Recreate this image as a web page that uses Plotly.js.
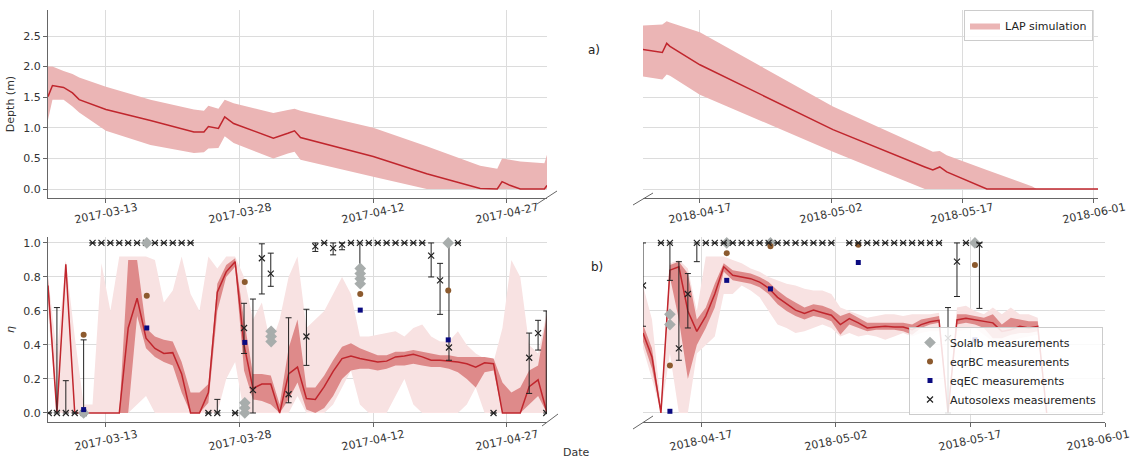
<!DOCTYPE html>
<html><head><meta charset="utf-8">
<script src="https://cdn.plot.ly/plotly-3.0.1.min.js"></script>
<style>html,body{margin:0;padding:0;background:#fff}#chart{width:1133px;height:462px}</style>
</head><body><div id="chart"></div>
<script>
// ---------- Depth (top panels) ----------
const depth2017Dates = ['2017-03-06 12:00','2017-03-07 00:00','2017-03-08 06:00','2017-03-09 06:00','2017-03-10 00:00','2017-03-13 00:00','2017-03-18 00:00','2017-03-22 21:00','2017-03-24 00:00','2017-03-24 12:00','2017-03-25 15:00','2017-03-26 08:00','2017-03-27 08:00','2017-03-31 19:00','2017-04-02 10:00','2017-04-03 04:00','2017-04-03 20:00','2017-04-12 00:00','2017-04-18 00:00','2017-04-24 00:00','2017-04-25 22:00','2017-04-26 11:00','2017-04-27 08:00','2017-04-28 12:00','2017-05-01 05:00','2017-05-01 12:00'];
const depth2017   = [1.51,1.69,1.66,1.57,1.46,1.30,1.12,0.93,0.93,1.02,0.99,1.18,1.07,0.83,0.91,0.95,0.84,0.53,0.25,0.01,0.00,0.12,0.06,0.00,0.00,0.06];
const depth2017Up = [2.00,2.00,1.93,1.88,1.82,1.67,1.46,1.30,1.28,1.36,1.31,1.46,1.40,1.24,1.29,1.31,1.28,1.00,0.70,0.38,0.33,0.50,0.48,0.45,0.42,0.56];
const depth2017Lo = [1.13,1.46,1.46,1.35,1.25,0.95,0.72,0.59,0.60,0.66,0.67,0.86,0.75,0.50,0.58,0.61,0.48,0.20,0.00,0,0,0,0,0,0,0];

const depth2018Dates = ['2018-04-10 12:00','2018-04-12 17:00','2018-04-13 05:00','2018-04-13 14:00','2018-04-17 00:00','2018-05-02 05:00','2018-05-12 17:00','2018-05-13 15:00','2018-05-14 10:00','2018-05-15 05:00','2018-05-19 19:00','2018-05-25 00:00','2018-05-25 12:00','2018-06-01 12:00'];
const depth2018   = [2.28,2.23,2.38,2.33,2.03,0.97,0.36,0.31,0.36,0.28,0.00,0.00,0.00,0.00];
const depth2018Up = [2.67,2.69,2.74,2.72,2.56,1.35,0.67,0.61,0.62,0.55,0.31,0.04,0.00,0.00];
const depth2018Lo = [1.84,1.79,1.87,1.85,1.54,0.61,0.00,0,0,0,0,0,0,0];

// ---------- eta (bottom panels) ----------
const eta2017Dates = ['2017-03-06 12:00','2017-03-07 12:00','2017-03-08 12:00','2017-03-09 12:00','2017-03-10 12:00','2017-03-11 12:00','2017-03-12 12:00','2017-03-13 12:00','2017-03-14 12:00','2017-03-15 12:00','2017-03-16 12:00','2017-03-17 12:00','2017-03-18 12:00','2017-03-19 12:00','2017-03-20 12:00','2017-03-21 12:00','2017-03-22 12:00','2017-03-23 12:00','2017-03-24 12:00','2017-03-25 12:00','2017-03-26 12:00','2017-03-27 12:00','2017-03-28 12:00','2017-03-29 12:00','2017-03-30 12:00','2017-03-31 12:00',
'2017-04-01 12:00','2017-04-02 12:00','2017-04-03 12:00','2017-04-04 12:00','2017-04-05 12:00','2017-04-06 12:00','2017-04-07 12:00','2017-04-08 12:00','2017-04-09 12:00','2017-04-10 12:00','2017-04-11 12:00','2017-04-12 12:00','2017-04-13 12:00','2017-04-14 12:00','2017-04-15 12:00','2017-04-16 12:00','2017-04-17 12:00','2017-04-18 12:00','2017-04-19 12:00','2017-04-20 12:00','2017-04-21 12:00','2017-04-22 12:00','2017-04-23 12:00','2017-04-24 12:00','2017-04-25 12:00','2017-04-26 12:00','2017-04-27 12:00','2017-04-28 12:00','2017-04-29 12:00','2017-04-30 12:00','2017-05-01 12:00'];
const eta2017 = [0.75,0,0.875,0,0,0,0,0,0,0.50,0.675,0.44,0.38,0.35,0.355,0.23,0,0,0.12,0.71,0.83,0.89,0.40,0.145,0.17,0.17,
0,0.23,0.27,0.085,0.08,0.155,0.245,0.32,0.335,0.32,0.31,0.30,0.305,0.33,0.335,0.345,0.33,0.31,0.31,0.305,0.30,0.29,0.27,0.295,0.29,0,0,0,0.155,0.195,0];
const eta2017DarkUp = [0.80,0.02,0.89,0.01,0,0,0,0,0,0.90,0.90,0.50,0.45,0.43,0.42,0.30,0.12,0.12,0.17,0.76,0.87,0.91,0.55,0.23,0.23,0.22,
0.05,0.38,0.55,0.15,0.15,0.22,0.31,0.39,0.41,0.38,0.36,0.34,0.34,0.36,0.36,0.37,0.36,0.35,0.34,0.34,0.33,0.33,0.33,0.33,0.32,0.18,0.12,0.15,0.25,0.28,0.58];
const eta2017DarkLo = [0.70,0,0.85,0,0,0,0,0,0,0,0.57,0.38,0.33,0.30,0.28,0.12,0,0,0.06,0.60,0.80,0.86,0.25,0.08,0.07,0.05,
0,0.08,0.18,0.02,0,0.03,0.10,0.20,0.25,0.26,0.26,0.25,0.26,0.28,0.28,0.29,0.28,0.27,0.27,0.26,0.24,0.20,0.15,0.24,0.25,0,0,0,0.05,0.10,0];
const eta2017LightUp = [0.80,0.35,0.90,0.45,0.05,0.05,0.88,0.60,0.92,0.92,0.92,0.92,0.90,0.65,0.72,0.92,0.70,0.60,0.92,0.85,0.92,0.92,0.80,0.55,0.65,0.40,
0.55,0.80,0.92,0.50,0.55,0.60,0.70,0.80,0.70,0.45,0.45,0.46,0.47,0.48,0.45,0.50,0.52,0.45,0.42,0.42,0.48,0.40,0.35,0.32,0.30,0.50,0.90,0.80,0.40,0.35,0.60];
const eta2017LightLo = [0.60,0,0,0,0,0,0,0,0,0,0.05,0.10,0,0,0,0,0,0,0,0,0.2,0.3,0,0,0,0,
0,0,0.1,0,0,0,0.05,0.15,0.25,0.05,0,0,0,0.1,0.2,0.05,0,0,0,0,0,0.05,0.15,0,0,0,0,0,0,0,0];

const eta2018Dates = ['2018-04-10 12:00','2018-04-11 12:00','2018-04-12 12:00','2018-04-13 12:00','2018-04-14 12:00','2018-04-15 12:00','2018-04-16 12:00','2018-04-17 12:00','2018-04-18 12:00','2018-04-19 12:00','2018-04-20 12:00','2018-04-21 12:00','2018-04-22 12:00','2018-04-23 12:00','2018-04-24 12:00','2018-04-25 12:00','2018-04-26 12:00','2018-04-27 12:00','2018-04-28 12:00','2018-04-29 12:00','2018-04-30 12:00',
'2018-05-01 12:00','2018-05-02 12:00','2018-05-03 12:00','2018-05-04 12:00','2018-05-05 12:00','2018-05-06 12:00','2018-05-07 12:00','2018-05-08 12:00','2018-05-09 12:00','2018-05-10 12:00','2018-05-11 12:00','2018-05-12 12:00','2018-05-13 12:00','2018-05-14 12:00','2018-05-15 12:00','2018-05-16 12:00','2018-05-17 12:00','2018-05-18 12:00','2018-05-19 12:00','2018-05-20 12:00','2018-05-21 12:00','2018-05-22 12:00','2018-05-23 12:00','2018-05-24 12:00','2018-05-25 12:00'];
const eta2018 = [0.47,0.33,0,0.84,0.86,0.60,0.48,0.57,0.70,0.86,0.81,0.80,0.79,0.77,0.735,0.68,0.64,0.605,0.585,0.605,0.59,
0.575,0.52,0.555,0.53,0.50,0.505,0.51,0.505,0.505,0.49,0.52,0.537,0.545,0,0.547,0.557,0.547,0.54,0.53,0.48,0.49,0.51,0.50,0.51,0];
const eta2018DarkUp = [0.52,0.38,0.02,0.87,0.89,0.82,0.55,0.62,0.76,0.88,0.84,0.83,0.82,0.80,0.77,0.72,0.68,0.65,0.62,0.64,0.63,
0.61,0.57,0.59,0.56,0.53,0.53,0.53,0.53,0.53,0.52,0.55,0.56,0.57,0.02,0.58,0.58,0.57,0.56,0.58,0.52,0.56,0.55,0.54,0.54,0.02];
const eta2018DarkLo = [0.42,0.26,0,0.80,0.55,0.20,0.40,0.50,0.62,0.83,0.78,0.77,0.76,0.74,0.70,0.64,0.60,0.57,0.55,0.57,0.56,
0.54,0.46,0.52,0.50,0.48,0.49,0.49,0.49,0.48,0.46,0.50,0.52,0.53,0,0.52,0.53,0.52,0.50,0.44,0.44,0.46,0.47,0.47,0.48,0];
const eta2018LightUp = [0.75,0.55,0.05,0.88,0.90,0.85,0.60,0.92,0.92,0.92,0.90,0.88,0.85,0.83,0.80,0.78,0.76,0.75,0.73,0.72,0.72,
0.70,0.62,0.60,0.58,0.56,0.57,0.58,0.58,0.57,0.58,0.58,0.58,0.59,0.05,0.62,0.63,0.60,0.58,0.62,0.58,0.62,0.58,0.58,0.56,0.05];
const eta2018LightLo = [0.38,0.20,0,0.35,0,0,0.35,0.40,0.45,0.70,0.70,0.75,0.72,0.68,0.60,0.52,0.50,0.47,0.48,0.50,0.52,
0.50,0.45,0.47,0.45,0.46,0.45,0.43,0.45,0.47,0.45,0.47,0.48,0.48,0,0.48,0.49,0.50,0.46,0.42,0.40,0.42,0.44,0.45,0.46,0];

// ---------- Measurements ----------
const solalb2017Dates = ['2017-03-10 12:00','2017-03-17 14:00','2017-03-28 14:00','2017-03-28 14:00','2017-03-28 14:00','2017-03-31 13:00','2017-03-31 13:00','2017-03-31 13:00','2017-04-10 13:00','2017-04-10 13:00','2017-04-10 13:00','2017-04-10 13:00','2017-04-20 10:00'];
const solalb2017 = [0.0,1.0,0.0,0.03,0.06,0.42,0.45,0.48,0.76,0.79,0.82,0.85,1.0];
const eq2017Dates = ['2017-03-10 12:00','2017-03-17 14:00','2017-03-28 14:00','2017-04-10 13:00','2017-04-20 10:00'];
const eqrbc2017 = [0.46,0.69,0.77,0.70,0.72];
const eqec2017  = [0.02,0.50,0.415,0.605,0.43];

const solalb2018Dates = ['2018-04-13 12:00','2018-04-13 12:00','2018-04-19 20:00','2018-04-24 17:00','2018-05-17 12:00'];
const solalb2018 = [0.58,0.52,1.0,1.0,1.0];
const eq2018Dates = ['2018-04-13 12:00','2018-04-19 20:00','2018-04-24 17:00','2018-05-04 12:00','2018-05-17 12:00'];
const eqrbc2018 = [0.28,0.94,0.98,0.99,0.87];
const eqec2018  = [0.01,0.78,0.73,0.885,0.43];

const auto2017Dates = ['2017-03-06 14:00','2017-03-07 12:00','2017-03-08 12:00','2017-03-09 12:00','2017-03-10 12:00','2017-03-11 12:00','2017-03-12 12:00','2017-03-13 12:00','2017-03-14 12:00','2017-03-15 12:00','2017-03-16 12:00','2017-03-17 12:00','2017-03-18 12:00','2017-03-19 12:00','2017-03-20 12:00','2017-03-21 12:00','2017-03-22 12:00','2017-03-24 12:00','2017-03-25 12:00','2017-03-27 12:00','2017-03-28 12:00','2017-03-29 12:00','2017-03-30 12:00','2017-03-31 12:00','2017-04-02 12:00','2017-04-04 12:00','2017-04-05 12:00','2017-04-06 12:00','2017-04-07 12:00','2017-04-08 12:00','2017-04-09 12:00','2017-04-10 12:00','2017-04-11 12:00','2017-04-12 12:00','2017-04-13 12:00','2017-04-14 12:00','2017-04-15 12:00','2017-04-16 12:00','2017-04-17 12:00','2017-04-18 12:00','2017-04-19 12:00','2017-04-20 12:00','2017-04-21 12:00','2017-04-25 12:00','2017-04-29 12:00','2017-04-30 12:00','2017-05-01 10:00'];
const auto2017      = [0,0,0,0,0,1,1,1,1,1,1,1,1,1,1,1,1,0,0,0,0.50,0.135,0.91,0.82,0.11,0.45,0.98,1.0,0.97,0.99,1.0,1.0,1,1,1,1,1,1,1,0.925,0.78,0.385,1.0,0,0.325,0.47,0];
const auto2017Plus  = [0,0.62,0.19,0,0.43,0,0,0,0,0,0,0,0,0,0,0,0,0,0.08,0,0.145,0.535,0.085,0.12,0.45,0.16,0.02,0,0.03,0.01,0,0,0,0,0,0,0,0,0,0.075,0.10,0.615,0,0,0.145,0.075,0.60];
const auto2017Minus = [0,0,0,0,0,0,0,0,0,0,0,0,0,0,0,0,0,0,0,0,0.15,0.135,0.21,0.075,0.05,0.17,0.03,0,0.04,0.03,0,0.14,0,0,0,0,0,0,0,0.125,0.20,0.075,0,0,0.21,0.10,0];

const auto2018Dates = ['2018-04-10 12:00','2018-04-12 12:00','2018-04-13 12:00','2018-04-14 12:00','2018-04-15 12:00','2018-04-16 12:00','2018-04-17 12:00','2018-04-18 12:00','2018-04-19 12:00','2018-04-20 12:00','2018-04-21 12:00','2018-04-22 12:00','2018-04-23 12:00','2018-04-24 12:00','2018-04-25 12:00','2018-04-26 12:00','2018-04-27 12:00','2018-04-28 12:00','2018-04-29 12:00','2018-04-30 12:00','2018-05-01 12:00','2018-05-03 12:00','2018-05-04 12:00','2018-05-05 12:00','2018-05-06 12:00','2018-05-07 12:00','2018-05-08 12:00','2018-05-09 12:00','2018-05-10 12:00','2018-05-11 12:00','2018-05-12 12:00','2018-05-13 12:00','2018-05-14 12:00','2018-05-15 12:00','2018-05-16 12:00','2018-05-18 00:00'];
const auto2018      = [0.75,1,1,0.38,0.70,1,1,1,1,1,1,1,1,1,1,1,1,1,1,1,1,1,1,1,1,1,1,1,1,1,1,1,0.44,0.89,1,0.99];
const auto2018Plus  = [0.25,0,0,0.51,0.12,0,0,0,0,0,0,0,0,0,0,0,0,0,0,0,0,0,0,0,0,0,0,0,0,0,0,0,0.18,0.11,0,0.01];
const auto2018Minus = [0.24,0,0.22,0.07,0.20,0.11,0,0,0,0,0,0,0,0,0,0,0,0,0,0,0,0,0,0,0,0,0,0,0,0,0,0,0.44,0.205,0,0.375];

// ---------- Ticks ----------
const ticks2017 = ['2017-03-13','2017-03-28','2017-04-12','2017-04-27'];
const ticks2018 = ['2018-04-17','2018-05-02','2018-05-17','2018-06-01'];

// ---------- Styles ----------
const RED = '#c0262d', DEPTHFILL = '#ebb5b5', DARKFILL = '#de8a8a', LIGHTFILL = '#f8e2e2';
const GRID = '#dcdcdc', AXC = '#666';
const FONT = 'DejaVu Sans, Liberation Sans, sans-serif';

function band(xs, up, lo, color, xa, ya, extra) {
  return Object.assign({
    type: 'scatter', mode: 'lines', x: xs.concat(xs.slice().reverse()),
    y: up.concat(lo.slice().reverse()), fill: 'toself', fillcolor: color,
    line: {width: 0, color: color}, hoverinfo: 'skip', showlegend: false, xaxis: xa, yaxis: ya
  }, extra || {});
}
function line(xs, ys, xa, ya) {
  return {type: 'scatter', mode: 'lines', x: xs, y: ys, line: {color: RED, width: 1.5}, showlegend: false, xaxis: xa, yaxis: ya};
}
function meas(xs, ys, kind, xa, ya, show, plus, minus) {
  const t = {type: 'scatter', mode: 'markers', x: xs, y: ys, xaxis: xa, yaxis: ya, showlegend: show, legend: 'legend2'};
  if (kind === 'solalb') { t.name = 'Solalb measurements'; t.marker = {symbol: 'diamond', size: 9, color: '#a8adac'}; }
  if (kind === 'eqrbc') { t.name = 'eqrBC measurements'; t.marker = {symbol: 'circle', size: 6, color: '#8c5a2e'}; }
  if (kind === 'eqec') { t.name = 'eqEC measurements'; t.marker = {symbol: 'square', size: 5, color: '#0a0a80'}; }
  if (kind === 'auto') {
    t.name = 'Autosolexs measurements';
    t.marker = {symbol: 'x-thin', size: 6, line: {width: 1.2, color: '#222'}, color: '#222'};
    t.error_y = {type: 'data', symmetric: false, array: plus, arrayminus: minus, color: '#222', thickness: 1, width: 3};
  }
  return t;
}

const data = [
  band(depth2017Dates, depth2017Up, depth2017Lo, DEPTHFILL, 'x', 'y'),
  line(depth2017Dates, depth2017, 'x', 'y'),
  band(depth2018Dates, depth2018Up, depth2018Lo, DEPTHFILL, 'x2', 'y2', {showlegend: true, name: 'LAP simulation', legend: 'legend'}),
  line(depth2018Dates, depth2018, 'x2', 'y2'),

  band(eta2017Dates, eta2017LightUp, eta2017LightLo, LIGHTFILL, 'x3', 'y3'),
  band(eta2017Dates, eta2017DarkUp, eta2017DarkLo, DARKFILL, 'x3', 'y3'),
  line(eta2017Dates, eta2017, 'x3', 'y3'),
  meas(auto2017Dates, auto2017, 'auto', 'x3', 'y3', false, auto2017Plus, auto2017Minus),
  meas(solalb2017Dates, solalb2017, 'solalb', 'x3', 'y3', false),
  meas(eq2017Dates, eqrbc2017, 'eqrbc', 'x3', 'y3', false),
  meas(eq2017Dates, eqec2017, 'eqec', 'x3', 'y3', false),

  band(eta2018Dates, eta2018LightUp, eta2018LightLo, LIGHTFILL, 'x4', 'y4'),
  band(eta2018Dates, eta2018DarkUp, eta2018DarkLo, DARKFILL, 'x4', 'y4'),
  line(eta2018Dates, eta2018, 'x4', 'y4'),
  meas(solalb2018Dates, solalb2018, 'solalb', 'x4', 'y4', true),
  meas(eq2018Dates, eqrbc2018, 'eqrbc', 'x4', 'y4', true),
  meas(eq2018Dates, eqec2018, 'eqec', 'x4', 'y4', true),
  meas(auto2018Dates, auto2018, 'auto', 'x4', 'y4', true, auto2018Plus, auto2018Minus)
];

function xax(dom, rng, ticks, anchor) {
  return {domain: dom, range: rng, type: 'date', anchor: anchor, tickvals: ticks, showticklabels: false,
    ticks: 'outside', ticklen: 4, tickcolor: AXC, showline: true, linecolor: AXC, linewidth: 1,
    showgrid: true, gridcolor: GRID, gridwidth: 1, zeroline: false, fixedrange: true};
}
function yax(dom, rng, dtick, anchor, left, title) {
  const a = {domain: dom, range: rng, anchor: anchor, tick0: 0, dtick: dtick, tickformat: '.1f',
    showgrid: true, gridcolor: GRID, gridwidth: 1, zeroline: false, fixedrange: true,
    tickfont: {family: FONT, size: 11, color: '#333'}};
  if (left) {
    Object.assign(a, {ticks: 'outside', ticklen: 4, tickcolor: AXC, showline: true, linecolor: AXC, linewidth: 1,
      title: {text: title, font: {family: FONT, size: 11, color: '#333'}, standoff: 6}});
  } else {
    Object.assign(a, {showticklabels: false, ticks: '', showline: false});
  }
  return a;
}

const XL = [48/1133, 547/1133], XRT = [643/1133, 1098/1133], XRB = [643/1133, 1105/1133];
const YT = [1 - 198/462, 1 - 10/462], YB = [1 - 422/462, 1 - 237/462];
const RT = [-0.147, 2.925], RB = [-0.053, 1.035];

const annotations = [];
function tickAnn(ticks, xref, ypx, lastShift) {
  ticks.forEach(function (t, i) {
    annotations.push({x: t, xref: xref, y: 1 - ypx/462, yref: 'paper', text: t, showarrow: false,
      textangle: -12, xanchor: 'center', yanchor: 'middle', xshift: (i === ticks.length - 1) ? lastShift : 0,
      font: {family: FONT, size: 11, color: '#333'}});
  });
}
tickAnn(ticks2017, 'x', 213, 0);
tickAnn(ticks2018, 'x2', 213, 0);
tickAnn(ticks2017, 'x3', 440, 0);
tickAnn(ticks2018, 'x4', 440, -7);
annotations.push({x: 594/1133, y: 1 - 50/462, xref: 'paper', yref: 'paper', text: 'a)', showarrow: false, xanchor: 'center', yanchor: 'middle', font: {family: FONT, size: 12, color: '#222'}});
annotations.push({x: 597/1133, y: 1 - 267/462, xref: 'paper', yref: 'paper', text: 'b)', showarrow: false, xanchor: 'center', yanchor: 'middle', font: {family: FONT, size: 12, color: '#222'}});
annotations.push({x: 577/1133, y: 1 - 452/462, xref: 'paper', yref: 'paper', text: 'Date', showarrow: false, xanchor: 'center', yanchor: 'middle', font: {family: FONT, size: 11, color: '#333'}});

function brk(x0, y0, x1, y1) {
  return {type: 'line', xref: 'paper', yref: 'paper', x0: x0/1133, y0: 1 - y0/462, x1: x1/1133, y1: 1 - y1/462, line: {color: AXC, width: 1}};
}
const shapes = [brk(537, 204, 557, 191), brk(633, 205, 653, 193), brk(542, 426, 558, 414), brk(633, 429, 653, 416)];

const layout = {
  width: 1133, height: 462, margin: {l: 0, r: 0, t: 0, b: 0}, autosize: false,
  paper_bgcolor: '#fff', plot_bgcolor: 'rgba(0,0,0,0)',
  font: {family: FONT, size: 11, color: '#333'},
  xaxis: xax(XL, ['2017-03-06 12:00', '2017-05-01 12:00'], ticks2017, 'y'),
  yaxis: yax(YT, RT, 0.5, 'x', true, 'Depth (m)'),
  xaxis2: xax(XRT, ['2018-04-10 12:00', '2018-06-01 12:00'], ticks2018, 'y2'),
  yaxis2: yax(YT, RT, 0.5, 'x2', false),
  xaxis3: xax(XL, ['2017-03-06 12:00', '2017-05-01 12:00'], ticks2017, 'y3'),
  yaxis3: yax(YB, RB, 0.2, 'x3', true, '<i>η</i>'),
  xaxis4: xax(XRB, ['2018-04-10 12:00', '2018-06-01 00:00'], ticks2018, 'y4'),
  yaxis4: yax(YB, RB, 0.2, 'x4', false),
  legend: {x: 1093/1133, xanchor: 'right', y: 1 - 10/462, yanchor: 'top', bgcolor: 'rgba(255,255,255,0.85)',
    bordercolor: '#cccccc', borderwidth: 1, font: {family: FONT, size: 11, color: '#222'}},
  legend2: {x: 1103/1133, xanchor: 'right', y: 1 - 415/462, yanchor: 'bottom', bgcolor: 'rgba(255,255,255,0.85)',
    bordercolor: '#cccccc', borderwidth: 1, font: {family: FONT, size: 11, color: '#222'}, tracegroupgap: 0},
  showlegend: true,
  annotations: annotations,
  shapes: shapes,
  hovermode: false
};

Plotly.newPlot('chart', data, layout, {displayModeBar: false, staticPlot: true});
</script></body></html>
